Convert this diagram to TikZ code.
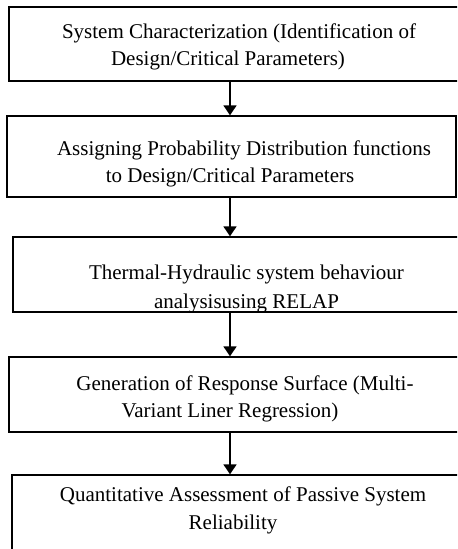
\documentclass[tikz,border=0pt]{standalone}
\usepackage{fontspec}
\setmainfont{Liberation Serif}
\usepackage{tikz}
\usetikzlibrary{arrows.meta}

\tikzset{
  stepbox/.style={draw, line width=0.8pt, inner sep=0pt},
  steptext/.style={inner sep=0pt, align=center, font=\fontsize{12.6}{16.4}\selectfont},
  flow/.style={line width=1pt, -{Triangle[width=7.8pt,length=6pt]}},
}

\begin{document}
\begin{tikzpicture}[x=0.6pt,y=0.6pt,yscale=-1,xscale=1]
\useasboundingbox (0,0) rectangle (457,549);
\clip (0,0) rectangle (457,549);

%Shape: Rectangle [system characterization]
\node [stepbox, minimum width=274.2pt, minimum height=44.4pt] (sysc) at (237.5,44) {};
%Shape: Rectangle [probability distributions]
\node [stepbox, minimum width=269.4pt, minimum height=48.6pt] (pdf) at (231.5,156.5) {};
%Shape: Rectangle [RELAP analysis]
\node [stepbox, minimum width=271.8pt, minimum height=45pt] (relap) at (239.5,274.5) {};
%Shape: Rectangle [response surface]
\node [stepbox, minimum width=274.2pt, minimum height=45pt] (rsurf) at (237.5,394.5) {};
%Shape: Rectangle [reliability]
\node [stepbox, minimum width=272.4pt, minimum height=51pt] (relia) at (239,517.5) {};

% Text Node
\node [steptext] (syscT) at (228,47.2) {\hspace*{13.2pt}System Characterization (Identification of\\Design/Critical Parameters)};
% Text Node
\node [steptext] (pdfT) at (230,164) {\hspace*{16.8pt}Assigning Probability Distribution functions\\to Design/Critical Parameters};
% Text Node
\node [steptext, font=\fontsize{12.6}{17.6}\selectfont] (relapT) at (246.5,288.7) {Thermal-Hydraulic system behaviour\\analysisusing RELAP};
% Text Node
\node [steptext] (rsurfT) at (230,398.7) {\hspace*{18pt}Generation of Response Surface (Multi-\\Variant Liner Regression)};
% Text Node
\node [steptext] (reliaT) at (233,510.2) {\hspace*{12pt}Quantitative Assessment of Passive System\\Reliability};

%Straight Lines [arrows down the chain]
\coordinate (axis) at (230,0);
\draw [flow] (sysc.south -| axis) -- (pdf.north -| axis);
\draw [flow] (pdf.south -| axis) -- (relap.north -| axis);
\draw [flow] (relap.south -| axis) -- (rsurf.north -| axis);
\draw [flow] (rsurf.south -| axis) -- (relia.north -| axis);

\end{tikzpicture}
\end{document}
